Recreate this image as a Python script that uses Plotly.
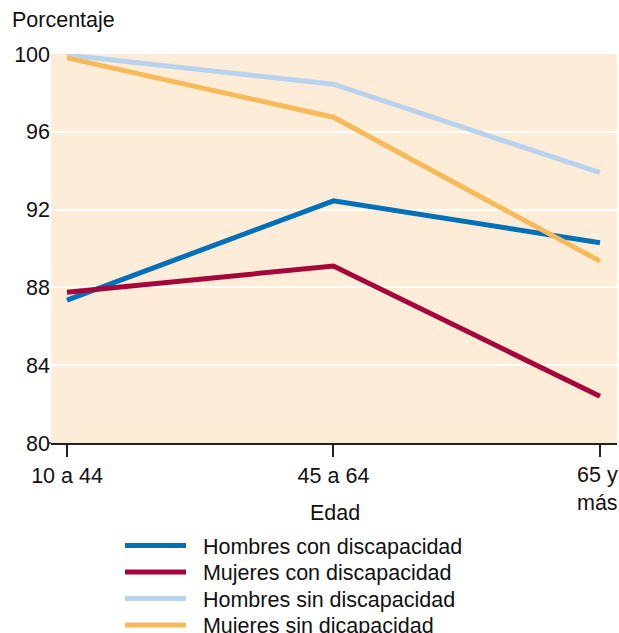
import plotly.graph_objects as go

categories = ["10 a 44", "45 a 64", "65 y<br>más"]
hombres_con = [87.35, 92.45, 90.3]
mujeres_con = [87.75, 89.1, 82.4]
hombres_sin = [99.95, 98.45, 93.9]
mujeres_sin = [99.8, 96.75, 89.35]
series_names = ["Hombres con discapacidad", "Mujeres con discapacidad",
                "Hombres sin discapacidad", "Mujeres sin dicapacidad"]
colors = ["#0071b9", "#a6053b", "#b8d3ef", "#f6bb58"]
y_ticks = [80, 84, 88, 92, 96, 100]

FONT = "Liberation Sans, Arial, sans-serif"
FS = 21.5
W, H = 619, 633
L, R, T, B = 51, 2, 54, 190
ph = H - T - B

def py(pixel_y):
    return (H - B - pixel_y) / ph

def px(pixel_x):
    return (pixel_x - L) / (W - L - R)

legend_rows = [545.5, 572, 598.5, 625]

fig = go.Figure()
x_idx = list(range(len(categories)))
all_vals = [hombres_con, mujeres_con, hombres_sin, mujeres_sin]
for i, (name, vals, col) in enumerate(zip(series_names, all_vals, colors)):
    lg = "legend" if i == 0 else f"legend{i+1}"
    fig.add_trace(go.Scatter(x=x_idx, y=vals, mode="lines", name="\u00a0\u00a0" + name,
                             line=dict(color=col, width=5), legend=lg))

legend_common = dict(xanchor="left", yanchor="middle", bgcolor="rgba(0,0,0,0)",
                     font=dict(size=FS, family=FONT, color="#111"), itemwidth=61)
layout_legends = {}
for i, row in enumerate(legend_rows):
    key = "legend" if i == 0 else f"legend{i+1}"
    layout_legends[key] = dict(x=px(120), y=py(row), **legend_common)

# the last category label is left-aligned (as in the reference) so it stays inside the page
tick_text = categories[:-1] + [""]

fig.update_layout(
    width=W, height=H,
    margin=dict(l=L, r=R, t=T, b=B, autoexpand=False),
    paper_bgcolor="white",
    plot_bgcolor="#fdecd7",
    font=dict(family=FONT, size=FS, color="#111"),
    showlegend=True,
    xaxis=dict(range=[-0.06, 2.064], tickmode="array", tickvals=x_idx, ticktext=tick_text,
               showgrid=False, zeroline=False, showline=True, linecolor="#222", linewidth=1.5,
               ticks="outside", ticklen=12, tickcolor="#222", tickwidth=1.5,
               tickfont=dict(size=FS), fixedrange=True, automargin=False),
    yaxis=dict(range=[80, 100], tickmode="array", tickvals=y_ticks,
               showgrid=True, gridcolor="white", gridwidth=2, zeroline=False,
               showline=False, ticks="", tickfont=dict(size=FS), fixedrange=True,
               automargin=False),
    annotations=[
        dict(text="Porcentaje", xref="paper", yref="paper", x=px(10), y=py(20),
             xanchor="left", yanchor="middle", showarrow=False, font=dict(size=FS)),
        dict(text="Edad", xref="paper", yref="paper", x=px(335), y=py(513),
             xanchor="center", yanchor="middle", showarrow=False, font=dict(size=FS)),
        dict(text=categories[-1], xref="x", yref="paper", x=x_idx[-1], xshift=-25,
             y=py(488.5), xanchor="left", yanchor="middle", align="left",
             showarrow=False, font=dict(size=FS)),
    ],
    **layout_legends,
)
fig.add_shape(type="line", xref="paper", yref="paper", x0=px(47.5), x1=0, y0=0, y1=0,
              line=dict(color="#222", width=1.5))

fig.write_html("out.html", config={"displayModeBar": False},
               post_script="document.body.style.margin='0';")
